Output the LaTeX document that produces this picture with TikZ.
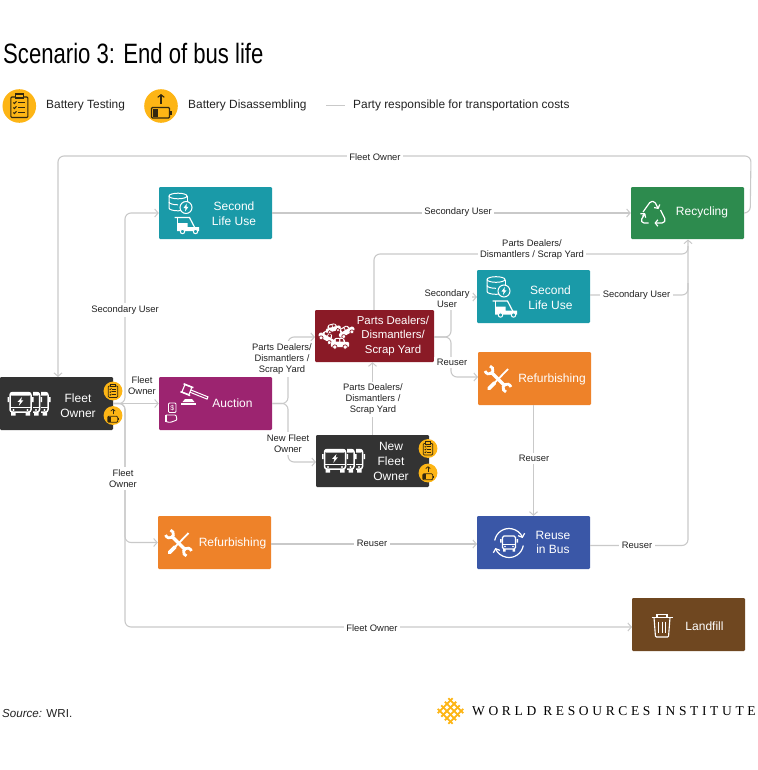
\documentclass[tikz,border=0pt]{standalone}
\usepackage{fontspec}
\setmainfont{Liberation Sans}
\newfontfamily\titlefont[FakeStretch=0.79]{Liberation Sans}
\newfontfamily\wrifont[LetterSpace=27]{Liberation Serif}
\usetikzlibrary{arrows.meta,calc}
\definecolor{cdark}{HTML}{333333}
\definecolor{cpurple}{HTML}{9C2470}
\definecolor{cteal}{HTML}{1A9AA8}
\definecolor{cgreen}{HTML}{2D8B4E}
\definecolor{cred}{HTML}{8A1A26}
\definecolor{corange}{HTML}{EE8229}
\definecolor{cblue}{HTML}{3A57A7}
\definecolor{cbrown}{HTML}{6F4720}
\definecolor{cgold}{HTML}{FDB515}
\definecolor{cink}{HTML}{33280F}
\definecolor{cline}{HTML}{C9C9C9}
\definecolor{ctext}{HTML}{222222}
\tikzset{
  box/.style={rectangle,rounded corners=1.2bp,inner sep=0pt,draw=none,minimum width=113bp,minimum height=53bp},
  boxtext/.style={text=white,align=center,inner sep=0pt,font=\fontsize{12bp}{14.6bp}\selectfont},
  lab/.style={fill=white,align=center,inner sep=2.5bp,text=ctext,font=\fontsize{9.4bp}{11bp}\selectfont},
  legendtext/.style={anchor=west,inner sep=0pt,text=ctext,font=\fontsize{11.9bp}{14bp}\selectfont},
  conn/.style={draw=cline,line width=1.1bp,rounded corners=6bp},
  arr/.style={conn,-{Straight Barb[length=3.5bp,width=8bp,line width=1bp]}},
  pics/bus/.style={code={
    \fill[#1] (-12.4,-12) rectangle (12.4,13);
    \draw[white,line width=1.5bp,fill=#1,rounded corners=2.5bp] (-10.5,-10.5) rectangle (10.5,9);
    \fill[white,rounded corners=1.5bp] (-10.5,-11) rectangle (10.5,-7.5);
    \fill[white] (-10.5,3.5) rectangle (10.5,4.7);
    \fill[white] (-9.5,9) rectangle (-5,12.5) (5,9) rectangle (9.5,12.5);
    \fill[white] (-13,-6) rectangle (-11.5,-1) (11.5,-6) rectangle (13,-1);
    \fill[white] (-7,7) circle (1.1bp) (7,7) circle (1.1bp);
  }},
  pics/busfleet/.style={code={
    \pic at (17,0) {bus=#1};
    \pic at (8.5,0) {bus=#1};
    \pic at (0,0) {bus=#1};
    \fill[white] (1.5,-6) -- (-2.8,-1.2) -- (-.6,-1.2) -- (-1.6,2.8) -- (2.8,-2.6) -- (.6,-2.6) -- cycle;
  }},
  pics/clipbadge/.style={code={
    \fill[cgold] (0,0) circle (16.8bp);
    \draw[cink,line width=#1 bp,rounded corners=1bp] (-8.5,-9) rectangle (8.5,11.5);
    \draw[cink,line width=#1 bp,fill=cgold] (-4,-12) rectangle (4,-8);
    \foreach \yy in {-3.5,1.5,6.5}{
      \draw[cink,line width=#1 bp] (-1,\yy) -- (6,\yy);
      \draw[cink,line width=#1 bp] (-6,\yy) -- (-4.8,{\yy+1}) -- (-2.8,{\yy-1.2});
    }
  }},
  pics/batbadge/.style={code={
    \fill[cgold] (0,0) circle (16.8bp);
    \draw[cink,line width=#1 bp,-{Straight Barb[length=2.4bp,width=6bp,scale=#1]}] (0,-2) -- (0,-12);
    \draw[cink,line width=#1 bp,rounded corners=1bp] (-9.5,1.5) rectangle (8.5,12);
    \fill[cink] (-8.5,2.5) rectangle (-3.5,11);
    \fill[cink] (9,5) rectangle (10.5,8.5);
  }},
  pics/dbtuk/.style={code={
    \draw[white,line width=1bp] (-46.5,-17) arc (180:-180:9 and 2.8);
    \draw[white,line width=1bp] (-46.5,-17) -- (-46.5,-5) arc (180:40:9 and 2.8);
    \draw[white,line width=1bp] (-28.5,-17) -- (-28.5,-11);
    \draw[white,line width=1bp] (-46.5,-11) arc (180:90:9 and 2.8);
    \draw[white,line width=1bp,fill=#1] (-29.5,-5.5) circle (6bp);
    \fill[white] (-28.7,-9.5) -- (-32,-5) -- (-30,-5) -- (-30.5,-1.5) -- (-27,-6.2) -- (-29,-6.2) -- cycle;
    \draw[white,line width=1.2bp] (-41,4.5) -- (-26,4.5) -- (-20,16);
    \draw[white,line width=1bp] (-38,4.5) -- (-38,11);
    \fill[white] (-38.5,10) rectangle (-28,18) (-28,14) rectangle (-16.5,18);
    \draw[white,line width=1bp,fill=#1] (-33,18.5) circle (2.2bp) (-20,18.5) circle (2.2bp);
  }},
  pics/tools/.style={code={
    \draw[white,line width=3.6bp,line cap=round] (-9,9.5) -- (-3.5,4);
    \draw[white,line width=1.8bp] (-3.5,4) -- (10,-10);
    \draw[white,line width=3.2bp] (-7,-7) -- (7,7);
    \draw[white,line width=2.8bp] (-8,-12.9) arc (285:525:4);
    \draw[white,line width=2.8bp] (8,12.9) arc (105:345:4);
  }},
  pics/carsil/.style={code={
    \fill[white,rounded corners=1.2bp] (-8,-1) rectangle (8,3.5);
    \fill[white,rounded corners=1.2bp] (-4.5,-4.5) -- (3,-4.5) -- (5,-.5) -- (-6,-.5) -- cycle;
    \fill[#1] (-3.5,-3.4) rectangle (-.7,-1.2) (.3,-3.4) -- (2.3,-3.4) -- (3.2,-1.2) -- (.3,-1.2) -- cycle;
    \draw[#1,line width=.7bp,fill=white] (-4.5,3.5) circle (1.9bp) (4.5,3.5) circle (1.9bp);
  }},
  pics/recycle/.style={code={
    \draw[white,line width=1.2bp,rounded corners=1.5bp,-{Straight Barb[length=2.6bp,width=6.5bp]}] (-10.5,-1) -- (-3,-11.5) -- (1,-11.5) -- (5,-4);
    \draw[white,line width=1.2bp,rounded corners=1.5bp,-{Straight Barb[length=2.6bp,width=6.5bp]}] (7,-3) -- (12,7) -- (10,10) -- (1,10);
    \draw[white,line width=1.2bp,rounded corners=1.5bp] (-5,10) -- (-11,10) -- (-12.5,7) -- (-8.5,1);
    \draw[white,line width=1.2bp,-{Straight Barb[length=2.6bp,width=6.5bp]}] (-11,3.5) -- (-8.5,0);
  }},
  pics/reusebus/.style={code={
    \draw[white,line width=1.2bp,-{Straight Barb[length=3bp,width=7bp]}] (190:14.5) arc (190:340:14.5);
    \draw[white,line width=1.2bp,-{Straight Barb[length=3bp,width=7bp]}] (10:14.5) arc (10:160:14.5);
    \draw[white,line width=1.3bp,rounded corners=1.5bp] (-6.5,-7) rectangle (6.5,6);
    \draw[white,line width=1bp] (-6.5,1) -- (6.5,1);
    \fill[white] (-6,6) rectangle (-3.5,8.5) (3.5,6) rectangle (6,8.5);
    \fill[white] (-9,-4) rectangle (-7.5,-.5) (7.5,-4) rectangle (9,-.5);
    \fill[white] (-4,3.5) circle (.9bp) (4,3.5) circle (.9bp);
  }},
  pics/trash/.style={code={
    \draw[white,line width=1.1bp] (-10.5,-8.5) -- (10.5,-8.5);
    \draw[white,line width=1.1bp] (-5,-8.5) -- (-5,-11.5) -- (5,-11.5) -- (5,-8.5);
    \draw[white,line width=1.1bp,rounded corners=1bp] (-8,-8.5) -- (-6.5,11) -- (6.5,11) -- (8,-8.5);
    \draw[white,line width=1bp] (-3.5,-4.5) -- (-3.5,7) (0,-4.5) -- (0,7) (3.5,-4.5) -- (3.5,7);
  }},
  pics/gavel/.style={code={
    \begin{scope}[rotate=-22]
      \draw[white,line width=1.1bp] (-6,-4) rectangle (1.5,4);
      \fill[white] (-7.5,-5) rectangle (3,-3.5);
      \fill[white] (-7.5,3.5) rectangle (3,5);
      \draw[white,line width=1bp] (1.5,-1.2) -- (20,-1.2) -- (20,1.2) -- (1.5,1.2);
    \end{scope}
    \fill[white] (-6.5,11.5) -- (-4,8.5) -- (3,8.5) -- (5.5,11.5) -- cycle;
    \fill[white] (-8,12.5) rectangle (7,14.2);
  }},
  pics/handcash/.style={code={
    \draw[white,line width=.9bp,rounded corners=1bp] (-3.5,-8) rectangle (4,1.5);
    \node[text=white,inner sep=0pt,font=\fontsize{7bp}{7bp}\selectfont] (dollar) at (.2,-3.3) {\$};
    \draw[white,line width=.9bp,rounded corners=1bp] (-6.5,4) -- (4,4) -- (5,9) -- (-2,11.5) -- (-6.5,10.5) -- cycle;
    \fill[white] (-7,4) rectangle (-5,11);
  }},
  pics/wrilogo/.style={code={
    \begin{scope}[rotate=45]
      \foreach \ii in {-7.5,-2.5,2.5,7.5}{
        \draw[cgold,line width=1.8bp] (-10.5,\ii) -- (10.5,\ii);
        \draw[cgold,line width=1.8bp] (\ii,-10.5) -- (\ii,10.5);
      }
    \end{scope}
  }},
}
\begin{document}
\begin{tikzpicture}[x=1bp,y=-1bp]
\useasboundingbox (0,0) rectangle (758,770);
% headers
\node[anchor=west,inner sep=0pt,text=black,font=\titlefont\fontsize{28bp}{30bp}\selectfont] (title) at (3,53) {Scenario 3: End of bus life};
\pic at (19.3,106) {clipbadge=1.1};
\node[legendtext] (legA) at (46,105.5) {Battery Testing};
\pic at (161,106) {batbadge=1.1};
\node[legendtext] (legB) at (188,105.5) {Battery Disassembling};
\coordinate (legL1) at (326,105.5);
\coordinate (legL2) at (345,105.5);
\draw[draw=cline,line width=1.1bp] (legL1) -- (legL2);
\node[legendtext] (legC) at (353,105.5) {Party responsible for transportation costs};
% boxes
\node[box,fill=cdark] (fleet) at (56.5,403.5) {};
\node[box,fill=cpurple] (auction) at (215.5,403.5) {};
\node[box,fill=cteal,minimum height=52bp] (second) at (215.5,213) {};
\node[box,fill=cgreen,minimum height=52bp] (recycling) at (687.5,213) {};
\node[box,fill=cred,minimum width=119bp,minimum height=52bp] (parts) at (374.5,336) {};
\node[box,fill=cteal] (secondB) at (533.5,296.5) {};
\node[box,fill=corange] (refurbB) at (534.5,378.5) {};
\node[box,fill=cdark,minimum height=52bp] (newfleet) at (372.5,461) {};
\node[box,fill=corange] (refurbA) at (214.5,542.5) {};
\node[box,fill=cblue] (reuse) at (533.5,542.5) {};
\node[box,fill=cbrown] (landfill) at (688.5,624.5) {};
% junctions
\coordinate (jFleet) at (125,403.5);
\coordinate (jTop) at (751,156);
\coordinate (jTopL) at (58,156);
\coordinate (fleetTop) at (58,377);
\coordinate (jAuc) at (288,403.5);
\coordinate (jPar) at (451,337);
\coordinate (partsIn) at (315,337);
\coordinate (partsOut) at (434,337);
\coordinate (jVert) at (688,254);
\coordinate (recIn) at (688,239.5);
\coordinate (jLand) at (125,627);
\coordinate (landIn) at (632,627);
\coordinate (reuseIn) at (477,544);
\coordinate (reuseOut) at (590,545.5);
\coordinate (refA) at (271,544);
\coordinate (jReuse) at (688,545.5);
\coordinate (jSec) at (688,295);
\coordinate (secOut) at (590,295);
\coordinate (topPar) at (374,254);
\coordinate (newIn) at (316,462);
\coordinate (secIn) at (477,297);
\coordinate (refIn) at (478,377);
% connectors
\draw[arr] (recycling.east) -- ($(recycling.east)+(6,0)$) -- (jTop) -- (jTopL) -- (fleetTop);
\draw[arr] (fleet.east) -- (jFleet) |- (second.west);
\draw[arr] (fleet.east) -- (auction.west);
\draw[arr] (fleet.east) -- (jFleet) |- (refurbA.west);
\draw[arr] (fleet.east) -- (jFleet) -- (jLand) -- (landIn);
\draw[arr] (second.east) -- (recycling.west);
\draw[arr] (auction.east) -- (jAuc) |- (partsIn);
\draw[arr] (auction.east) -- (jAuc) |- (newIn);
\draw[arr] (newfleet.north) -- (newfleet.north |- parts.south);
\draw[conn] (parts.north -| topPar) -- (topPar) -- (jVert) -- ($(jVert)+(0,-8)$);
\draw[conn] (secOut) -- (jSec) -- ($(jSec)+(0,-12)$);
\draw[arr] (reuseOut) -- (jReuse) -- (recIn);
\draw[arr] (partsOut) -- (jPar) |- (secIn);
\draw[arr] (partsOut) -- (jPar) |- (refIn);
\draw[arr] (refurbB.south -| reuse.north) -- (reuse.north);
\draw[arr] (refA) -- (reuseIn);
% connector labels
\node[lab] (l1) at (375,157) {Fleet Owner};
\node[lab] (l2) at (125,310) {Secondary User};
\node[lab,fill=none] (l3) at (142,386) {Fleet\\Owner};
\node[lab] (l4) at (123,478.5) {Fleet\\Owner};
\node[lab] (l5) at (372,628) {Fleet Owner};
\node[lab] (l6) at (458,212.5) {Secondary User};
\node[lab] (l7) at (282,359) {Parts Dealers/\\Dismantlers /\\Scrap Yard};
\node[lab] (l8) at (288,443.5) {New Fleet\\Owner};
\node[lab] (l9) at (373,399.5) {Parts Dealers/\\Dismantlers /\\Scrap Yard};
\node[lab] (l10) at (532,249.5) {Parts Dealers/\\Dismantlers / Scrap Yard};
\node[lab] (l11) at (447,299) {Secondary\\User};
\node[lab] (l12) at (452,362.5) {Reuser};
\node[lab] (l13) at (636.5,295.5) {Secondary User};
\node[lab] (l14) at (534,458.5) {Reuser};
\node[lab] (l15) at (372,543.5) {Reuser};
\node[lab] (l16) at (637,545.5) {Reuser};
% box texts
\node[boxtext] (tFleet) at (78,405.5) {Fleet\\Owner};
\node[boxtext] (tAuction) at (232.5,403.5) {Auction};
\node[boxtext] (tSecond) at (234,213.5) {Second\\Life Use};
\node[boxtext] (tRec) at (702,212.5) {Recycling};
\node[boxtext,font=\fontsize{11.4bp}{14.4bp}\selectfont] (tParts) at (393,336) {Parts Dealers/\\Dismantlers/\\Scrap Yard};
\node[boxtext] (tSecondB) at (550.5,298) {Second\\Life Use};
\node[boxtext] (tRefB) at (552,379.5) {Refurbishing};
\node[boxtext] (tNew) at (391,461.5) {New\\Fleet\\Owner};
\node[boxtext] (tRefA) at (232.5,543.5) {Refurbishing};
\node[boxtext] (tReuse) at (553,542.5) {Reuse\\in Bus};
\node[boxtext] (tLand) at (704.5,626) {Landfill};
% icons
\pic at (20.5,403) {busfleet=cdark};
\pic at (335,460) {busfleet=cdark};
\pic[scale=.56] at (113,391) {clipbadge=.75};
\pic[scale=.56] at (113,415.5) {batbadge=.75};
\pic[scale=.56] at (428,448.5) {clipbadge=.75};
\pic[scale=.56] at (428,473) {batbadge=.75};
\pic at (second.center) {dbtuk=cteal};
\pic at (secondB.center) {dbtuk=cteal};
\pic at (189,390.5) {gavel};
\pic at (172,411) {handcash};
\pic at (178.5,543) {tools};
\pic at (498,379) {tools};
\pic at (653.5,213) {recycle};
\pic at (509,543) {reusebus};
\pic at (662,626) {trash};
\pic[rotate=-30,scale=1.05] at (327,337) {carsil=cred};
\pic[rotate=15,scale=.95] at (333,328) {carsil=cred};
\pic[rotate=30,scale=1.05] at (346,331) {carsil=cred};
\pic[scale=1.15] at (340,343) {carsil=cred};
% footer
\node[anchor=west,inner sep=0pt,text=ctext,font=\fontsize{11.6bp}{14bp}\selectfont] (source) at (2,713) {\textit{Source:} WRI.};
\pic at (450.5,711) {wrilogo};
\node[anchor=west,inner sep=0pt,text=black,font=\wrifont\fontsize{13.5bp}{14bp}\selectfont] (wri) at (472,711.5) {WORLD RESOURCES INSTITUTE};
\end{tikzpicture}
\end{document}
